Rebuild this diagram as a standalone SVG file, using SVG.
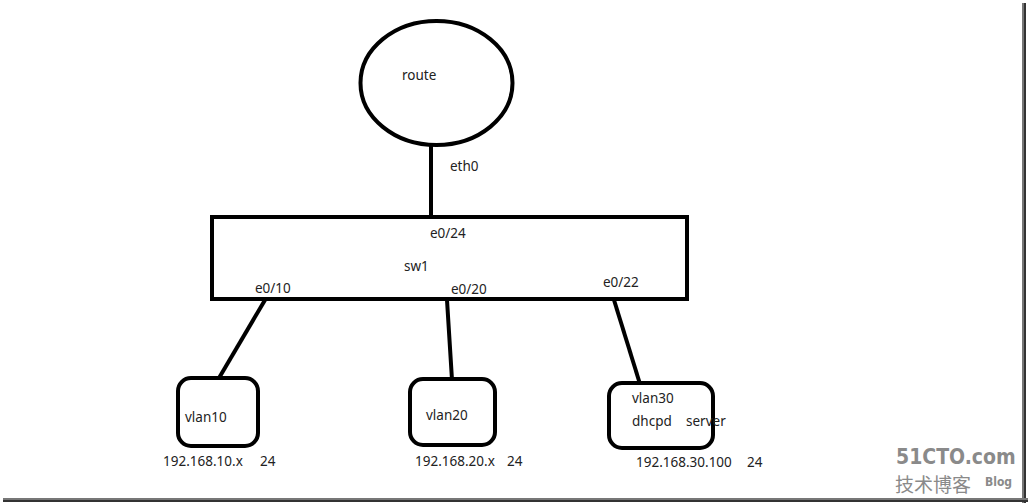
<svg xmlns="http://www.w3.org/2000/svg" width="1028" height="503" viewBox="0 0 1028 503">
<style>
.s{fill:none;stroke:#000;stroke-width:4}
.t{font-family:"Noto Sans","Open Sans",sans-serif;font-size:13.5px;fill:#222}
.wm{font-family:"DejaVu Sans Condensed","DejaVu Sans","Liberation Sans",sans-serif;font-weight:bold;fill:#8a8a8a}
</style>
<rect width="1028" height="503" fill="#fff"/>
<g id="frame">
<rect x="1022" y="3" width="2" height="500" fill="#777"/>
<rect x="1024" y="3" width="2" height="500" fill="#333"/>
<rect x="3" y="498" width="1025" height="2" fill="#777"/>
<rect x="3" y="500" width="1025" height="2" fill="#333"/>
</g>
<g id="connectors">
<line class="s" x1="431" y1="145" x2="431" y2="217"/>
<line class="s" x1="265" y1="300" x2="219" y2="378"/>
<line class="s" x1="447" y1="300" x2="452" y2="380"/>
<line class="s" x1="614" y1="300" x2="640" y2="384"/>
</g>
<g id="route">
<ellipse class="s" cx="436.5" cy="83" rx="76" ry="62"/>
<text class="t" x="402" y="80">route</text>
<text class="t" x="450" y="171">eth0</text>
</g>
<g id="sw1">
<rect class="s" x="212" y="217" width="475" height="82"/>
<text class="t" x="430" y="238">e0/24</text>
<text class="t" x="404" y="271">sw1</text>
<text class="t" x="255" y="293">e0/10</text>
<text class="t" x="451" y="294">e0/20</text>
<text class="t" x="603" y="287">e0/22</text>
</g>
<g id="vlan10">
<rect class="s" x="178" y="378" width="80" height="68" rx="13"/>
<text class="t" x="185" y="422">vlan10</text>
<text class="t" x="163" y="466">192.168.10.x</text>
<text class="t" x="260" y="466">24</text>
</g>
<g id="vlan20">
<rect class="s" x="410" y="379" width="85" height="66" rx="13"/>
<text class="t" x="426" y="420">vlan20</text>
<text class="t" x="415" y="466">192.168.20.x</text>
<text class="t" x="507" y="466">24</text>
</g>
<g id="vlan30">
<rect class="s" x="609" y="383" width="104" height="65" rx="13"/>
<text class="t" x="632" y="403">vlan30</text>
<text class="t" x="632" y="426">dhcpd</text>
<text class="t" x="686" y="426">server</text>
<text class="t" x="636" y="467">192.168.30.100</text>
<text class="t" x="747" y="467">24</text>
</g>
<g id="watermark">
<text class="wm" x="896" y="464" font-size="21">51CTO.com</text>
<text x="895" y="492" font-family="Noto Sans CJK SC,sans-serif" font-size="19" fill="#8a8a8a">技术博客</text>
<text class="wm" x="985" y="486" font-size="12">Blog</text>
</g>
</svg>
